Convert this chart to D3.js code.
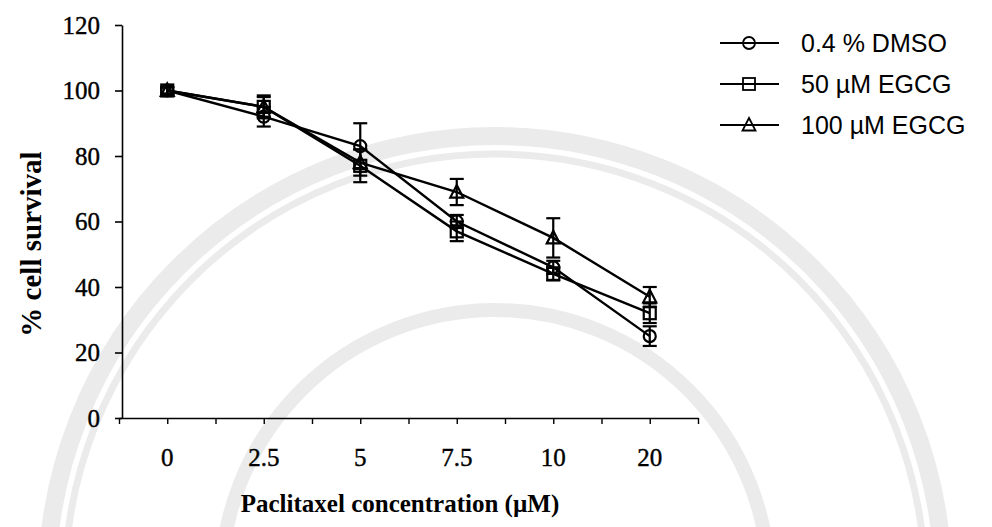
<!DOCTYPE html>
<html>
<head>
<meta charset="utf-8">
<script src="https://cdn.jsdelivr.net/npm/d3@7"></script>
<style>
  html, body { margin: 0; padding: 0; background: #fff; }
  svg { display: block; }
</style>
</head>
<body>
<svg id="chart" width="992" height="527"></svg>
<script>
// Paclitaxel concentrations (µM), drawn as evenly spaced categories
const categories = ["0", "2.5", "5", "7.5", "10", "20"];

// % cell survival, mean values
const dmso    = [100, 92, 83, 60, 46, 25];
const egcg50  = [100, 95, 77, 57, 44, 32];
const egcg100 = [100, 95, 78, 69, 55, 37];

// error bar half-lengths
const dmsoErr    = [1, 3, 7, 2, 2, 3];
const egcg50Err  = [1, 3.5, 5, 3, 2, 3];
const egcg100Err = [1, 3, 4, 4, 6, 3];

const yTicks = [0, 20, 40, 60, 80, 100, 120];
const seriesNames = ["0.4 % DMSO", "50 \u00b5M EGCG", "100 \u00b5M EGCG"];
const seriesShapes = ["circle", "square", "triangle"];

const svg = d3.select("#chart");
const plotLeft = 122, plotTop = 25, plotBottom = 418;

const x = d3.scaleBand().domain(categories).range([119, 698]);
const xc = c => x(c) + x.bandwidth() / 2;
const y = d3.scaleLinear().domain([0, 120]).range([plotBottom, plotTop]);

const serif = "'Liberation Serif', 'Times New Roman', serif";
const sans = "'Liberation Sans', Arial, sans-serif";

// faint seal rings in the page background
const seal = svg.append("g").attr("fill", "none").attr("stroke", "#ebebeb");
seal.append("circle").attr("cx", 495).attr("cy", 584).attr("r", 448).attr("stroke-width", 18);
seal.append("circle").attr("cx", 495).attr("cy", 584).attr("r", 430).attr("stroke-width", 7);
seal.append("circle").attr("cx", 495).attr("cy", 584).attr("r", 274).attr("stroke-width", 14);

// Y axis
const yAxis = svg.append("g")
  .attr("transform", `translate(${plotLeft},0)`)
  .call(d3.axisLeft(y).tickValues(yTicks).tickSize(7).tickSizeOuter(0).tickPadding(15));
yAxis.select(".domain").attr("stroke", "#000").attr("stroke-width", 1.6);
yAxis.selectAll(".tick line").attr("stroke", "#000").attr("stroke-width", 1.6);
yAxis.selectAll(".tick text")
  .attr("font-family", serif).attr("font-size", 25).attr("fill", "#000")
  .attr("stroke", "#000").attr("stroke-width", 0.4);

// X axis: tick marks at every half category
const xHalf = d3.scaleLinear().domain([0, categories.length * 2]).range([119, 698]);
const xTickAxis = svg.append("g")
  .attr("transform", `translate(0,${plotBottom})`)
  .call(d3.axisBottom(xHalf).tickValues(d3.range(0, categories.length * 2 + 1))
    .tickSize(6).tickSizeOuter(0).tickFormat(""));
xTickAxis.select(".domain").attr("stroke", "#000").attr("stroke-width", 1.6);
xTickAxis.selectAll(".tick line").attr("stroke", "#000").attr("stroke-width", 1.4);

// X axis category labels
const xLabelAxis = svg.append("g")
  .attr("transform", `translate(0,${plotBottom})`)
  .call(d3.axisBottom(x).tickSize(0).tickPadding(30));
xLabelAxis.select(".domain").remove();
xLabelAxis.selectAll(".tick text")
  .attr("font-family", serif).attr("font-size", 25).attr("fill", "#000")
  .attr("stroke", "#000").attr("stroke-width", 0.4);

// Axis titles
svg.append("text")
  .attr("x", 400).attr("y", 512)
  .attr("text-anchor", "middle")
  .attr("font-family", serif).attr("font-size", 25).attr("font-weight", "bold")
  .text("Paclitaxel concentration (\u00b5M)");

svg.append("text")
  .attr("transform", "translate(41,244) rotate(-90)")
  .attr("text-anchor", "middle")
  .attr("font-family", serif).attr("font-size", 29).attr("font-weight", "bold")
  .text("% cell survival");

const series = [
  { name: seriesNames[0], shape: seriesShapes[0], values: dmso, err: dmsoErr },
  { name: seriesNames[1], shape: seriesShapes[1], values: egcg50, err: egcg50Err },
  { name: seriesNames[2], shape: seriesShapes[2], values: egcg100, err: egcg100Err }
];

function marker(g, shape, cx, cy) {
  if (shape === "circle") {
    g.append("circle").attr("cx", cx).attr("cy", cy).attr("r", 6);
  } else if (shape === "square") {
    g.append("rect").attr("x", cx - 6).attr("y", cy - 6).attr("width", 12).attr("height", 12);
  } else {
    g.append("path").attr("d", `M${cx},${cy - 7}L${cx + 6.5},${cy + 5.5}L${cx - 6.5},${cy + 5.5}Z`);
  }
}

const line = d3.line().x((d, i) => xc(categories[i])).y(d => y(d));

const plot = svg.append("g");
series.forEach(s => {
  plot.append("path")
    .datum(s.values)
    .attr("d", line)
    .attr("fill", "none").attr("stroke", "#000").attr("stroke-width", 2.4);

  const eb = plot.append("g").attr("stroke", "#000").attr("stroke-width", 2.2);
  s.values.forEach((v, i) => {
    const cx = xc(categories[i]);
    const y0 = y(v - s.err[i]), y1 = y(v + s.err[i]);
    eb.append("line").attr("x1", cx).attr("x2", cx).attr("y1", y0).attr("y2", y1);
    eb.append("line").attr("x1", cx - 7).attr("x2", cx + 7).attr("y1", y0).attr("y2", y0);
    eb.append("line").attr("x1", cx - 7).attr("x2", cx + 7).attr("y1", y1).attr("y2", y1);
  });

  const mk = plot.append("g").attr("fill", "none").attr("stroke", "#000").attr("stroke-width", 2.2);
  s.values.forEach((v, i) => marker(mk, s.shape, xc(categories[i]), y(v)));
});

// Legend
const legendRows = [43, 84, 125];
const legend = svg.append("g");
series.forEach((s, i) => {
  const ly = legendRows[i];
  legend.append("line")
    .attr("x1", 720).attr("x2", 779).attr("y1", ly).attr("y2", ly)
    .attr("stroke", "#000").attr("stroke-width", 2);
  const mk = legend.append("g").attr("fill", "none").attr("stroke", "#000").attr("stroke-width", 1.8);
  marker(mk, s.shape, 749, ly);
  legend.append("text")
    .attr("x", 801).attr("y", ly + 9)
    .attr("font-family", sans).attr("font-size", 25).attr("fill", "#000")
    .text(s.name);
});
</script>
</body>
</html>
